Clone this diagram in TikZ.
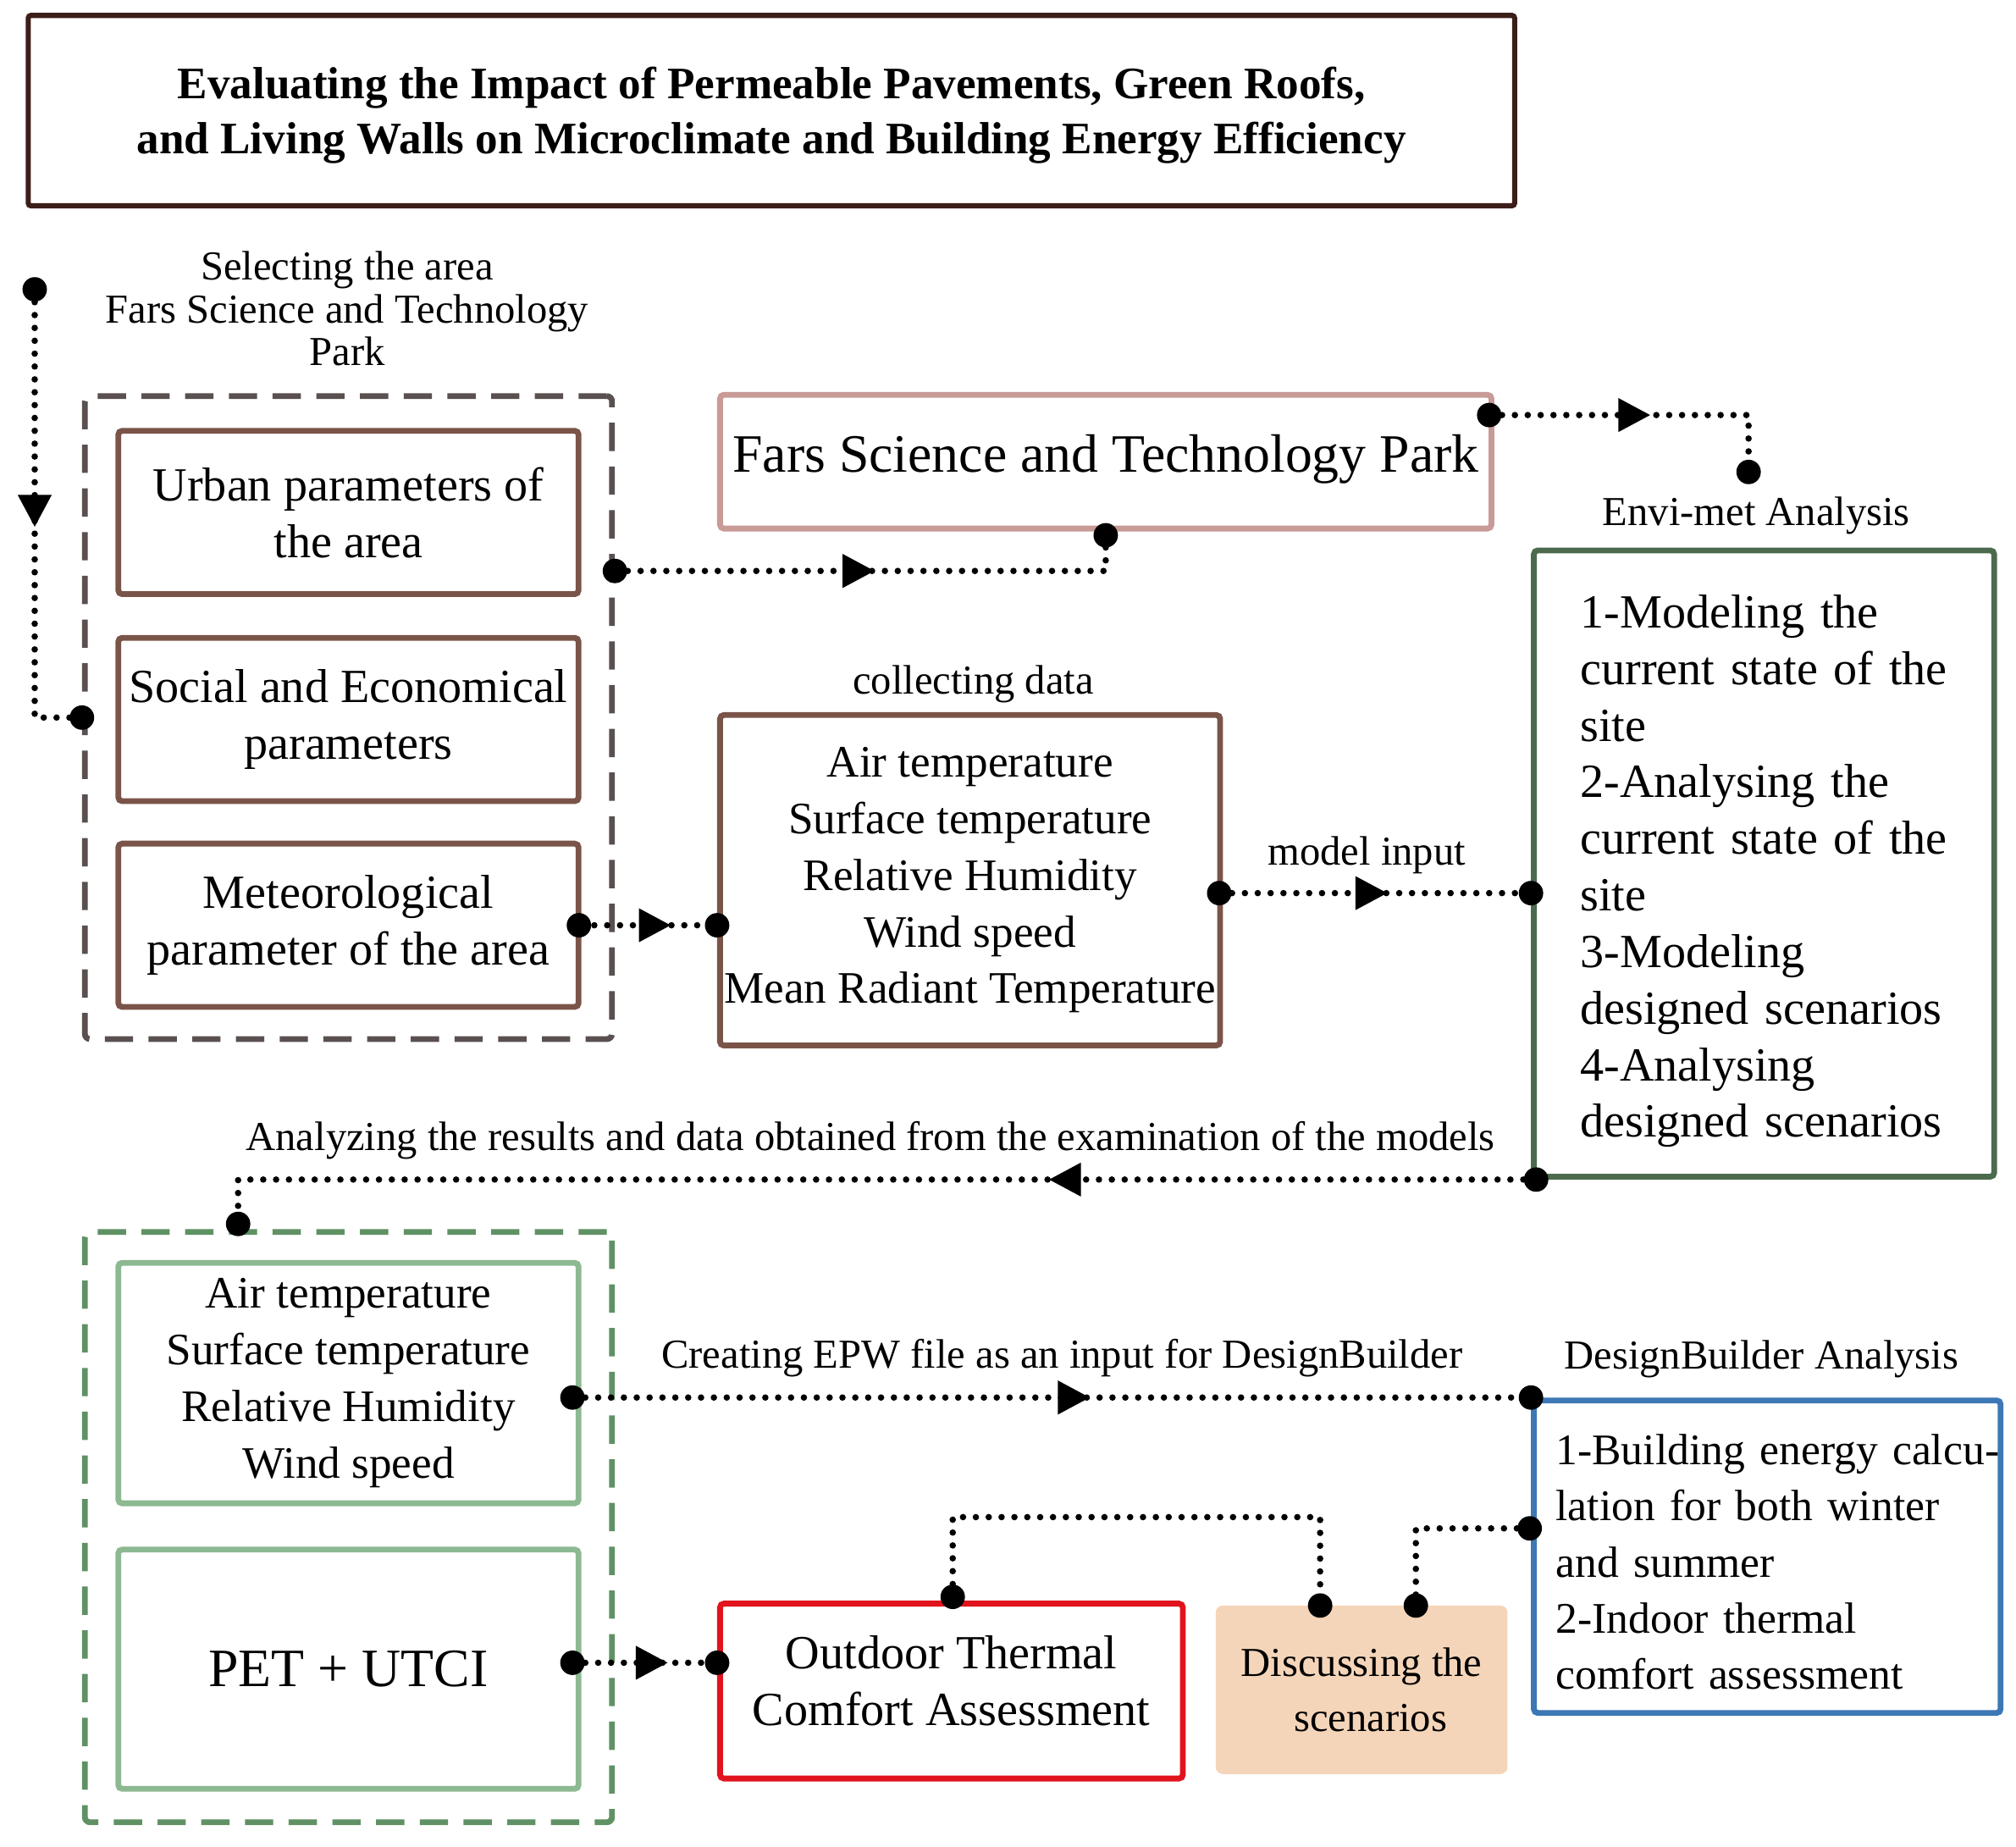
\documentclass[tikz,border=0pt]{standalone}
\usepackage{fontspec}
\setmainfont{Liberation Serif}
\usetikzlibrary{arrows.meta,decorations.markings,calc}
\definecolor{titlec}{RGB}{60,30,25}
\definecolor{brownc}{RGB}{122,84,72}
\definecolor{greyc}{RGB}{90,80,80}
\definecolor{farsc}{RGB}{200,155,150}
\definecolor{envic}{RGB}{76,107,78}
\definecolor{lgreenc}{RGB}{140,185,145}
\definecolor{dgreenc}{RGB}{95,145,100}
\definecolor{bluec}{RGB}{60,120,180}
\definecolor{redc}{RGB}{225,20,30}
\definecolor{peachc}{RGB}{245,213,185}
\begin{document}
\begin{tikzpicture}[x=1pt,y=-1pt,
  box/.style={draw, line width=4.5pt, rounded corners=3pt, align=center, inner sep=0pt},
  grpbox/.style={draw, line width=4.5pt, rounded corners=4pt, dash pattern=on 22pt off 12pt, inner sep=0pt},
  lbl/.style={inner sep=0pt, align=center, font=\fontsize{32}{33}\selectfont},
  dots/.style={line width=5pt, dash pattern=on 0pt off 10pt, line cap=round},
  midarrow/.style={postaction={decorate,decoration={markings,mark=at position #1 with {\arrow{Triangle[length=25pt,width=25pt]}}}}},
  ep/.style={fill=black}
]
\useasboundingbox (0,0) rectangle (1568,1436);

% title
\node[box, draw=titlec, line width=4pt, rounded corners=2pt, minimum width=1156pt, minimum height=148pt,
  font=\bfseries\fontsize{35}{43}\selectfont] (title) at (600,86)
  {\raisebox{-3.5pt}[\height][\depth]{\begin{tabular}{@{}c@{}}Evaluating the Impact of Permeable Pavements, Green Roofs,\\and Living Walls on Microclimate and Building Energy Efficiency\end{tabular}}};

% first group
\node[lbl] (sel) at (270,240) {Selecting the area\\Fars Science and Technology\\Park};
\node[grpbox, draw=greyc, minimum width=410pt, minimum height=500pt] (grp1) at (271,558) {};
\node[box, draw=brownc, minimum width=358pt, minimum height=127pt, font=\fontsize{37}{44}\selectfont] (urban) at (271,398.5) {Urban parameters of\\the area};
\node[box, draw=brownc, minimum width=358pt, minimum height=127pt, font=\fontsize{37}{44}\selectfont] (social) at (271,559.5) {Social and Economical\\parameters};
\node[box, draw=brownc, minimum width=358pt, minimum height=127pt, font=\fontsize{37}{44}\selectfont] (met) at (271,719.5) {Meteorological\\parameter of the area};

% Fars box
\node[box, draw=farsc, minimum width=600pt, minimum height=104pt, font=\fontsize{42}{48}\selectfont] (fars) at (860,359) {\raisebox{2pt}[\height][\depth]{Fars Science and Technology Park}};

% collecting data
\node[lbl] (colllbl) at (757,532) {collecting data};
\node[box, draw=brownc, minimum width=389pt, minimum height=257pt, font=\fontsize{35}{44}\selectfont] (coll) at (754.5,684.5)
  {Air temperature\\Surface temperature\\Relative Humidity\\Wind speed\\Mean Radiant Temperature};

% Envi-met
\node[lbl] (envilbl) at (1366,401) {Envi-met Analysis};
\node[box, draw=envic, minimum width=358pt, minimum height=487pt, text width=286pt, align=left, font=\fontsize{37}{44}\selectfont] (envi) at (1372,671.5)
  {\raisebox{-6pt}[\height][\depth]{\begin{tabular}{@{}l@{}}1-Modeling the\\current state of the\\site\\2-Analysing the\\current state of the\\site\\3-Modeling\\designed scenarios\\4-Analysing\\designed scenarios\end{tabular}}};

\node[lbl] (mlbl) at (1063,665) {model input};
\node[lbl] (alabel) at (677,887) {Analyzing the results and data obtained from the examination of the models};

% second group
\node[grpbox, draw=dgreenc, minimum width=410pt, minimum height=459pt] (grp2) at (271,1187.5) {};
\node[box, draw=lgreenc, minimum width=358pt, minimum height=187pt, font=\fontsize{35}{44}\selectfont] (g1) at (271,1075.5)
  {Air temperature\\Surface temperature\\Relative Humidity\\Wind speed};
\node[box, draw=lgreenc, minimum width=358pt, minimum height=186pt, font=\fontsize{42}{48}\selectfont] (pet) at (271,1298) {PET + UTCI};

\node[lbl] (epwlbl) at (826,1056) {Creating EPW file as an input for DesignBuilder};
\node[lbl] (dblbl) at (1370,1057) {DesignBuilder Analysis};
\node[box, draw=bluec, minimum width=363pt, minimum height=243pt, text width=329pt, inner xsep=17pt, align=left, font=\fontsize{34}{43.5}\selectfont] (db) at (1374.5,1210.5)
  {\raisebox{-7pt}[\height][\depth]{\begin{tabular}{@{}l@{}}1-Building energy calcu-\\lation for both winter\\and summer\\2-Indoor thermal\\comfort assessment\end{tabular}}};

\node[box, draw=redc, minimum width=360pt, minimum height=136pt, font=\fontsize{37}{44}\selectfont] (outd) at (740,1315)
  {\raisebox{4pt}[\height][\depth]{\begin{tabular}{@{}c@{}}Outdoor Thermal\\Comfort Assessment\end{tabular}}};
\node[box, draw=peachc, fill=peachc, rounded corners=5pt, line width=1pt, minimum width=226pt, minimum height=130pt, font=\fontsize{32}{43}\selectfont] (disc) at (1059,1314) {Discussing the\\\hspace*{14pt}scenarios};

% connectors
\coordinate (s0) at (27,225);
\draw[dots, midarrow=0.5] (s0) -- (s0 |- grp1.west) -- (grp1.west);
\fill[ep] (s0) circle[radius=9.5pt];
\fill[ep] (grp1.west) circle[radius=9.5pt];

\coordinate (u1) at ($(grp1.north east)!0.274!(grp1.south east)$);
\draw[dots, midarrow=0.49] (u1) -- (u1 -| fars.south) -- (fars.south);
\fill[ep] (u1) circle[radius=9.5pt];
\fill[ep] ([yshift=-3pt]fars.south) circle[radius=9.5pt];

\coordinate (f1) at ($(fars.north east)+(-4,18)$);
\coordinate (e1) at (1360,367);
\draw[dots, midarrow=0.51] (f1) -- (f1 -| e1) -- (e1);
\fill[ep] (f1) circle[radius=9.5pt];
\fill[ep] (e1) circle[radius=9.5pt];

\draw[dots, midarrow=0.66] (met.east) -- (met.east -| coll.west);
\fill[ep] ([xshift=-2pt]met.east) circle[radius=9.5pt];
\fill[ep] (met.east -| coll.west) circle[radius=9.5pt];

\coordinate (c1) at ($(coll.east)+(-3,10)$);
\draw[dots, midarrow=0.54] (c1) -- (c1 -| envi.west);
\fill[ep] (c1) circle[radius=9.5pt];
\fill[ep] (c1 -| envi.west) circle[radius=9.5pt];

\coordinate (dtop) at ($(grp2.north west)!0.293!(grp2.north east)+(0,-4)$);
\draw[dots, midarrow=0.363] ([xshift=4pt]envi.south west) -- (envi.south west -| dtop) -- (dtop);
\fill[ep] ([xshift=4pt]envi.south west) circle[radius=9.5pt];
\fill[ep] (dtop) circle[radius=9.5pt];

\coordinate (g1e) at ([xshift=-7pt]g1.east |- db.north west);
\draw[dots, midarrow=0.54] (g1e) -- (db.north west);
\fill[ep] (g1e) circle[radius=9.5pt];
\fill[ep] (db.north west) circle[radius=9.5pt];

\coordinate (pe) at ([xshift=-7pt,yshift=5pt]pet.east);
\draw[dots, midarrow=0.66] (pe) -- (pe -| outd.west);
\fill[ep] (pe) circle[radius=9.5pt];
\fill[ep] (pe -| outd.west) circle[radius=9.5pt];

\coordinate (dA) at ($(disc.north west)!0.358!(disc.north east)$);
\coordinate (oN) at ([xshift=1pt,yshift=3pt]outd.north);
\draw[dots] (oN) -- ++(0,-62) -| (dA);
\fill[ep] (oN) circle[radius=9.5pt];
\fill[ep] (dA) circle[radius=9.5pt];

\coordinate (dB) at ($(disc.north west)!0.686!(disc.north east)$);
\coordinate (dbw) at ($(db.west)+(-1,-22)$);
\draw[dots] (dbw) -| (dB);
\fill[ep] (dbw) circle[radius=9.5pt];
\fill[ep] (dB) circle[radius=9.5pt];
\end{tikzpicture}
\end{document}
